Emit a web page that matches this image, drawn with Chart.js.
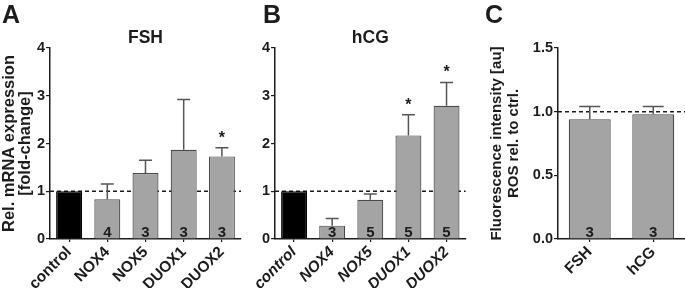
<!DOCTYPE html>
<html lang="en">
<head>
<meta charset="UTF-8" />
<title>NOX/DUOX mRNA expression and ROS</title>
<script src="https://cdn.jsdelivr.net/npm/chart.js"></script>
<style>
  body { margin: 0; background: #fff; }
  .panel { position: absolute; top: 0; }
  #panelA { left: 0; }
  #panelB { left: 243px; }
  #panelC { left: 468px; }
</style>
</head>
<body>
  <canvas id="panelA" class="panel" width="243" height="288"></canvas>
  <canvas id="panelB" class="panel" width="225" height="288"></canvas>
  <canvas id="panelC" class="panel" width="217" height="288"></canvas>

<script>
// A: FSH
const fshLabels = ['control', 'NOX4', 'NOX5', 'DUOX1', 'DUOX2'];
const fshMean = [1, 0.83, 1.38, 1.87, 1.73];
const fshSem = [0, 0.32, 0.27, 1.05, 0.18];
const fshN = ['', '4', '3', '3', '3'];
const fshSig = [false, false, false, false, true];

// B: hCG
const hcgLabels = ['control', 'NOX4', 'NOX5', 'DUOX1', 'DUOX2'];
const hcgMean = [1, 0.28, 0.82, 2.17, 2.79];
const hcgSem = [0, 0.15, 0.12, 0.43, 0.49];
const hcgN = ['', '3', '5', '5', '5'];
const hcgSig = [false, false, false, true, true];

// C: ROS
const rosLabels = ['FSH', 'hCG'];
const rosMean = [0.94, 0.98];
const rosSem = [0.10, 0.06];
const rosN = ['3', '3'];
const rosSig = [false, false];

const mrnaTicks = { min: 0, max: 4, step: 1 };
const rosTicks = { min: 0, max: 1.5, step: 0.5 };

const fontFamily = "'Liberation Sans', Arial, sans-serif";
const ink = '#1c1c1c';
const barGrey = '#a4a4a4';
const edgeGrey = '#4a4a4a';

function decorations(cfg) {
  return {
    id: 'decorations',
    beforeDatasetsDraw(chart) {
      const { ctx, chartArea, scales: { y } } = chart;
      const yRef = y.getPixelForValue(1);
      ctx.save();
      ctx.strokeStyle = ink;
      ctx.lineWidth = 1.5;
      ctx.setLineDash([4, 3]);
      ctx.beginPath();
      ctx.moveTo(chartArea.left, yRef);
      ctx.lineTo(chartArea.right, yRef);
      ctx.stroke();
      ctx.restore();
    },
    afterDatasetsDraw(chart) {
      const { ctx, chartArea, scales: { y } } = chart;
      const bars = chart.getDatasetMeta(0).data;
      const yZero = y.getPixelForValue(0);
      ctx.save();
      bars.forEach((bar, i) => {
        // error bar (upper whisker only)
        if (cfg.sem[i] > 0) {
          const top = y.getPixelForValue(cfg.mean[i] + cfg.sem[i]);
          const hw = bar.width / 4;
          ctx.strokeStyle = '#555';
          ctx.lineWidth = 1.5;
          ctx.beginPath();
          ctx.moveTo(bar.x, bar.y);
          ctx.lineTo(bar.x, top);
          ctx.moveTo(bar.x - hw, top);
          ctx.lineTo(bar.x + hw, top);
          ctx.stroke();
          if (cfg.sig[i]) {
            ctx.fillStyle = ink;
            ctx.font = 'bold 16px ' + fontFamily;
            ctx.textAlign = 'center';
            ctx.textBaseline = 'alphabetic';
            ctx.fillText('*', bar.x, top - 5);
          }
        }
        // n per group
        if (cfg.n[i]) {
          ctx.fillStyle = ink;
          ctx.font = 'bold 15px ' + fontFamily;
          ctx.textAlign = 'center';
          ctx.textBaseline = 'alphabetic';
          ctx.fillText(cfg.n[i], bar.x, yZero - 2.5);
        }
      });
      // panel letter and title
      ctx.fillStyle = ink;
      ctx.textAlign = 'left';
      ctx.textBaseline = 'alphabetic';
      ctx.font = 'bold 25px ' + fontFamily;
      ctx.fillText(cfg.letter, cfg.letterX, 23);
      if (cfg.title) {
        ctx.textAlign = 'center';
        ctx.font = 'bold 17.5px ' + fontFamily;
        ctx.fillText(cfg.title, (chartArea.left + chartArea.right) / 2, 43);
      }
      ctx.restore();
    }
  };
}

function makePanel(id, cfg) {
  const colors = cfg.labels.map(l => l === 'control' ? '#000' : barGrey);
  const edges = cfg.labels.map(l => l === 'control' ? '#000' : edgeGrey);
  new Chart(document.getElementById(id), {
    type: 'bar',
    data: {
      labels: cfg.labels,
      datasets: [{
        data: cfg.mean,
        backgroundColor: colors,
        borderColor: edges,
        borderWidth: 1.2,
        barPercentage: cfg.barPct,
        categoryPercentage: 1
      }]
    },
    options: {
      responsive: false,
      animation: false,
      layout: { padding: { top: 48, left: 0, right: cfg.padRight, bottom: 0 } },
      plugins: { legend: { display: false }, tooltip: { enabled: false } },
      scales: {
        x: {
          offset: true,
          border: { color: ink, width: 1.5 },
          grid: { drawOnChartArea: false, offset: false, tickLength: 3, color: ink, lineWidth: 1.2 },
          ticks: {
            color: ink,
            autoSkip: false,
            minRotation: 45,
            maxRotation: 45,
            padding: 1,
            font: { family: fontFamily, size: 15.5, weight: 'bold', style: cfg.italic ? 'italic' : 'normal' }
          },
          afterFit(scale) {
            scale.height = 49;
            scale.paddingLeft = 0; scale.paddingRight = 0;
          }
        },
        y: {
          min: cfg.ticks.min,
          max: cfg.ticks.max,
          border: { color: ink, width: 1.5 },
          grid: { drawOnChartArea: false, tickLength: 4, color: ink, lineWidth: 1.2 },
          ticks: {
            stepSize: cfg.ticks.step,
            color: ink,
            padding: 1,
            font: { family: fontFamily, size: 14.5, weight: 'bold' },
            callback: v => cfg.ticks.step < 1 ? v.toFixed(1) : v
          },
          title: {
            display: !!cfg.yTitle,
            text: cfg.yTitle || '',
            color: ink,
            font: { family: fontFamily, size: cfg.titleSize, weight: 'bold', lineHeight: cfg.titleLH },
            padding: { top: cfg.titlePad, bottom: 0 }
          },
          afterFit(scale) {
            scale.width = cfg.yWidth;
            scale.paddingTop = 0; scale.paddingBottom = 0;
          }
        }
      }
    },
    plugins: [decorations(cfg)]
  });
}

makePanel('panelA', {
  labels: fshLabels, mean: fshMean, sem: fshSem, n: fshN, sig: fshSig,
  ticks: mrnaTicks, letter: 'A', letterX: 2, title: 'FSH',
  yTitle: ['Rel. mRNA expression', '[fold-change]'], titleSize: 16.5, titleLH: 0.95, titlePad: 2,
  yWidth: 50, padRight: 2, barPct: 0.68, italic: false
});

makePanel('panelB', {
  labels: hcgLabels, mean: hcgMean, sem: hcgSem, n: hcgN, sig: hcgSig,
  ticks: mrnaTicks, letter: 'B', letterX: 20, title: 'hCG',
  yTitle: null, titleSize: 15, titleLH: 1, titlePad: 0,
  yWidth: 32, padRight: 2.4, barPct: 0.68, italic: true
});

makePanel('panelC', {
  labels: rosLabels, mean: rosMean, sem: rosSem, n: rosN, sig: rosSig,
  ticks: rosTicks, letter: 'C', letterX: 17, title: null,
  yTitle: ['Fluorescence intensity [au]', 'ROS rel. to ctrl.'], titleSize: 15, titleLH: 1.15, titlePad: 20.4,
  yWidth: 90, padRight: 0, barPct: 0.66, italic: false
});
</script>
</body>
</html>
